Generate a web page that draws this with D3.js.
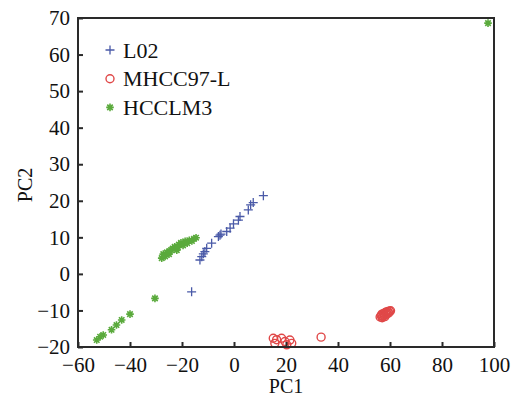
<!DOCTYPE html>
<html>
<head>
<meta charset="utf-8">
<script src="https://cdn.jsdelivr.net/npm/d3@7"></script>
<style>
  body { margin: 0; background: #fff; }
  svg text { font-family: "Liberation Serif", "DejaVu Serif", serif !important; fill: #111; }
</style>
</head>
<body>
<svg width="514" height="396"></svg>
<script>
// PCA scores
var l02X = [-16.3, -13.1, -12.4, -11.8, -11.2, -10.5, -8.6, -6.0, -5.4, -5.0, -2.8, -1.5, -0.2, 1.7, 2.3, 5.5, 6.4, 7.4, 11.3];
var l02Y = [-4.9, 3.8, 4.7, 5.5, 6.1, 7.0, 8.4, 10.2, 10.6, 10.9, 11.6, 12.5, 13.7, 14.7, 15.7, 17.5, 18.9, 19.5, 21.4];

var mhccX = [15.1, 15.7, 16.4, 18.3, 19.6, 20.3, 21.5, 22.2, 33.5,
             56.2, 56.6, 56.9, 57.3, 57.6, 57.8, 58.2, 58.4, 58.6, 58.9, 59.2, 59.5, 59.8, 60.2, 57.0, 58.0];
var mhccY = [-17.6, -19.0, -18.0, -17.6, -18.5, -19.4, -18.1, -19.0, -17.3,
             -11.8, -11.4, -11.0, -11.6, -10.8, -11.3, -10.6, -11.1, -10.4, -10.9, -10.3, -10.7, -10.2, -10.1, -12.0, -11.7];

var hcclmX = [-52.8, -51.5, -50.3, -47.1, -45.2, -43.2, -40.0, -30.4, -27.8, -27.2, -26.5, -25.8, -25.0, -24.2, -23.6, -22.8, -22.0, -21.2, -20.4, -19.6, -18.8, -18.0, -17.2, -16.2, -15.4, -14.6, -24.8, -21.6, 97.7];
var hcclmY = [-18.1, -17.2, -16.7, -15.3, -14.0, -12.6, -11.0, -6.7, 4.3, 5.4, 4.8, 5.9, 5.4, 6.5, 6.9, 7.4, 6.5, 8.0, 8.5, 7.8, 8.9, 8.4, 9.2, 9.0, 9.6, 9.9, 6.2, 7.3, 68.6];

var seriesNames = ["L02", "MHCC97-L", "HCCLM3"];
var xTicks = [-60, -40, -20, 0, 20, 40, 60, 80, 100];
var yTicks = [-20, -10, 0, 10, 20, 30, 40, 50, 60, 70];

var svg = d3.select("svg"),
    margin = {top: 18, right: 20, bottom: 49, left: 78},
    width = +svg.attr("width") - margin.left - margin.right,
    height = +svg.attr("height") - margin.top - margin.bottom;

var x = d3.scaleLinear().domain([-60, 100]).range([0, width]);
var y = d3.scaleLinear().domain([-20, 70]).range([height, 0]);

var g = svg.append("g").attr("transform", "translate(" + margin.left + "," + margin.top + ")");

var colors = {"L02": "#4a5aa8", "MHCC97-L": "#e04848", "HCCLM3": "#5aaa3c"};

// markers
function plusPath(s) {
  return "M" + (-s) + ",0H" + s + "M0," + (-s) + "V" + s;
}
function starPath(s) {
  var d = s * 0.72;
  return plusPath(s) + "M" + (-d) + "," + (-d) + "L" + d + "," + d + "M" + (-d) + "," + d + "L" + d + "," + (-d);
}

function drawMarker(sel, name) {
  if (name == "L02") {
    sel.append("path").attr("d", plusPath(4.5)).attr("stroke", colors[name]).attr("stroke-width", 1.3).attr("fill", "none");
  } else if (name == "MHCC97-L") {
    sel.append("circle").attr("r", 4).attr("stroke", colors[name]).attr("stroke-width", 1.4).attr("fill", "none");
  } else {
    sel.append("path").attr("d", starPath(3.8)).attr("stroke", colors[name]).attr("stroke-width", 1.6).attr("fill", "none");
  }
}

var series = [
  {name: "L02", xs: l02X, ys: l02Y},
  {name: "MHCC97-L", xs: mhccX, ys: mhccY},
  {name: "HCCLM3", xs: hcclmX, ys: hcclmY}
];

series.forEach(function(s) {
  var pts = s.xs.map(function(v, i) { return [v, s.ys[i]]; });
  g.selectAll(".pt-" + s.name)
    .data(pts)
    .enter()
    .append("g")
    .attr("transform", function(d) { return "translate(" + x(d[0]) + "," + y(d[1]) + ")"; })
    .each(function() { drawMarker(d3.select(this), s.name); });
});

// frame
g.append("rect").attr("width", width).attr("height", height)
  .attr("fill", "none").attr("stroke", "#2a2a2a").attr("stroke-width", 2);

// axes with inward ticks
var fmt = function(d) { return d < 0 ? "\u2212" + (-d) : d; };
var xAxis = g.append("g").attr("transform", "translate(0," + height + ")")
  .call(d3.axisBottom(x).tickValues(xTicks).tickSizeInner(-5).tickSizeOuter(0).tickPadding(10).tickFormat(fmt));
var yAxis = g.append("g")
  .call(d3.axisLeft(y).tickValues(yTicks).tickSizeInner(-5).tickSizeOuter(0).tickPadding(8).tickFormat(fmt));

[xAxis, yAxis].forEach(function(a) {
  a.attr("font-family", null).attr("font-size", null);
  a.select(".domain").remove();
  a.selectAll(".tick line").attr("stroke", "#2a2a2a").attr("stroke-width", 2);
  a.selectAll(".tick text").style("font-size", "21px").attr("fill", "#111");
});

// axis titles
svg.append("text").attr("x", 286).attr("y", 393).attr("text-anchor", "middle").style("font-size", "20px").text("PC1");
svg.append("text").attr("transform", "translate(32,185) rotate(-90)")
  .attr("text-anchor", "middle").style("font-size", "20px").text("PC2");

// legend
var legend = svg.append("g");
seriesNames.forEach(function(name, i) {
  var row = legend.append("g").attr("transform", "translate(110," + (50 + i * 28.7) + ")");
  drawMarker(row, name);
  row.append("text").attr("x", 13).attr("y", 7.5).style("font-size", "22px").text(name);
});
</script>
</body>
</html>
